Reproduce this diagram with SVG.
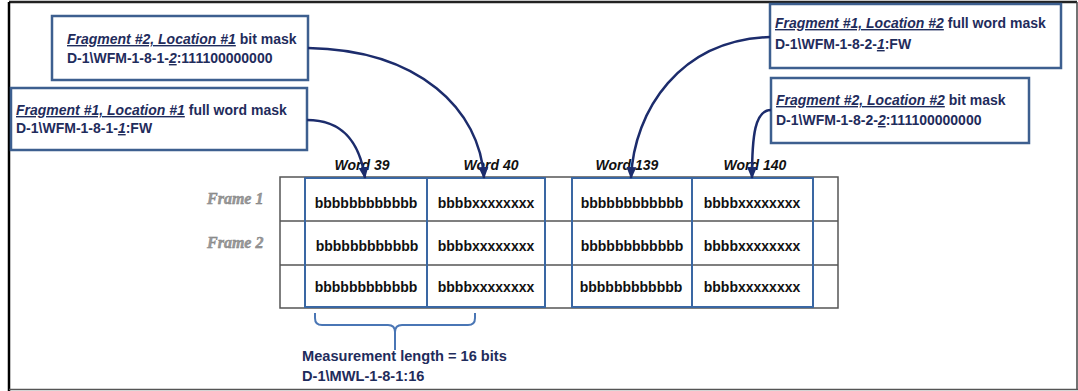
<svg xmlns="http://www.w3.org/2000/svg" width="1078" height="391" viewBox="0 0 1078 391">
<defs>
<style>
.box{fill:#fff;stroke:#3d5f8f;stroke-width:2.5}
.bt{font-family:"Liberation Sans",Arial,sans-serif;font-size:14px;font-weight:bold;fill:#1f2c5c}
.mt{font-size:14.6px}
.em{font-style:italic;text-decoration:underline}
.grid{stroke:#555;stroke-width:1.5;fill:none}
.col{fill:none;stroke:#3a67a3;stroke-width:2}
.cell{font-family:"Liberation Sans",Arial,sans-serif;font-size:14px;font-weight:bold;fill:#111;text-anchor:middle}
.hdr{font-family:"Liberation Sans",Arial,sans-serif;font-size:14px;font-weight:bold;font-style:italic;fill:#111;text-anchor:middle}
.frm{font-family:"Liberation Serif","Times New Roman",serif;font-size:16px;font-weight:bold;font-style:italic;fill:#9a9a9a;stroke:#7a7a7a;stroke-width:0.4}
.con{fill:none;stroke:#1c2c6c;stroke-width:2.5}
.brace{fill:none;stroke:#4a76b5;stroke-width:2}
</style>
<marker id="arr" markerUnits="userSpaceOnUse" markerWidth="12" markerHeight="12" viewBox="0 0 12 12" refX="11" refY="6" orient="auto">
<path d="M0,1 L12,6 L0,11 Z" fill="#1c2c6c"/>
</marker>
</defs>
<rect width="1078" height="391" fill="#fff"/>
<!-- outer frame -->
<line x1="9" y1="2" x2="1077" y2="2" stroke="#222" stroke-width="2.5"/>
<line x1="9" y1="2" x2="9" y2="391" stroke="#000" stroke-width="2.5"/>
<line x1="1077" y1="2" x2="1077" y2="390" stroke="#444" stroke-width="1.5"/>
<line x1="9" y1="389.5" x2="1078" y2="389.5" stroke="#555" stroke-width="1.5"/>

<g id="table">
<rect class="grid" x="280" y="177" width="558" height="131"/>
<line class="grid" x1="280" y1="221" x2="838" y2="221"/>
<line class="grid" x1="280" y1="265" x2="838" y2="265"/>
<line class="grid" x1="305" y1="177" x2="305" y2="308"/>
<line class="grid" x1="545" y1="177" x2="545" y2="308"/>
<line class="grid" x1="572" y1="177" x2="572" y2="308"/>
<line class="grid" x1="813" y1="177" x2="813" y2="308"/>
<rect class="col" x="305" y="178" width="122" height="129"/>
<rect class="col" x="427" y="178" width="118" height="129"/>
<rect class="col" x="572" y="178" width="120" height="129"/>
<rect class="col" x="692" y="178" width="121" height="129"/>
<text class="hdr" x="362" y="170">Word 39</text>
<text class="hdr" x="491" y="170">Word 40</text>
<text class="hdr" x="627" y="170">Word 139</text>
<text class="hdr" x="755" y="170">Word 140</text>
<text class="frm" x="207" y="204">Frame 1</text>
<text class="frm" x="207" y="248">Frame 2</text>
<text class="cell" x="366" y="208">bbbbbbbbbbbb</text>
<text class="cell" x="486" y="208">bbbbxxxxxxxx</text>
<text class="cell" x="632" y="208">bbbbbbbbbbbb</text>
<text class="cell" x="752" y="208">bbbbxxxxxxxx</text>
<text class="cell" x="367" y="251">bbbbbbbbbbbb</text>
<text class="cell" x="486" y="251">bbbbxxxxxxxx</text>
<text class="cell" x="632" y="251">bbbbbbbbbbbb</text>
<text class="cell" x="752" y="251">bbbbxxxxxxxx</text>
<text class="cell" x="366" y="292">bbbbbbbbbbbb</text>
<text class="cell" x="486" y="292">bbbbxxxxxxxx</text>
<text class="cell" x="631" y="292">bbbbbbbbbbbb</text>
<text class="cell" x="752" y="292">bbbbxxxxxxxx</text>
</g>

<g id="frag2loc1">
<rect class="box" x="52" y="16" width="256" height="64"/>
<text class="bt" x="67" y="44"><tspan class="em">Fragment #2, Location #1</tspan> bit mask</text>
<text class="bt" x="67" y="63">D-1\WFM-1-8-1-<tspan class="em">2</tspan>:111100000000</text>
</g>
<g id="frag1loc1">
<rect class="box" x="11" y="88" width="296" height="62"/>
<text class="bt" x="16" y="115"><tspan class="em">Fragment #1, Location #1</tspan> full word mask</text>
<text class="bt" x="16" y="133">D-1\WFM-1-8-1-<tspan class="em">1</tspan>:FW</text>
</g>
<g id="frag1loc2">
<rect class="box" x="770" y="4" width="291" height="64"/>
<text class="bt" x="775" y="28"><tspan class="em">Fragment #1, Location #2</tspan> full word mask</text>
<text class="bt" x="775" y="49">D-1\WFM-1-8-2-<tspan class="em">1</tspan>:FW</text>
</g>
<g id="frag2loc2">
<rect class="box" x="771" y="78" width="258" height="65"/>
<text class="bt" x="776" y="105"><tspan class="em">Fragment #2, Location #2</tspan> bit mask</text>
<text class="bt" x="776" y="125">D-1\WFM-1-8-2-<tspan class="em">2</tspan>:111100000000</text>
</g>

<g id="measurement">
<path class="brace" d="M315,313 V318 Q315,325 322,325 H388 Q395,325 395,332 V350 M395,332 Q395,325 402,325 H468 Q475,325 475,318 V313"/>
<text class="bt mt" x="302" y="361">Measurement length = 16 bits</text>
<text class="bt mt" x="302" y="381">D-1\MWL-1-8-1:16</text>
</g>

<g id="connectors">
<path class="con" marker-end="url(#arr)" d="M308,48 C420,50 480,110 484,178"/>
<path class="con" marker-end="url(#arr)" d="M307,120 C345,120 360,145 365,178"/>
<path class="con" marker-end="url(#arr)" d="M770,37 C680,40 634,110 631,178"/>
<path class="con" marker-end="url(#arr)" d="M771,110 C755,110 752,135 752,178"/>
</g>
</svg>
